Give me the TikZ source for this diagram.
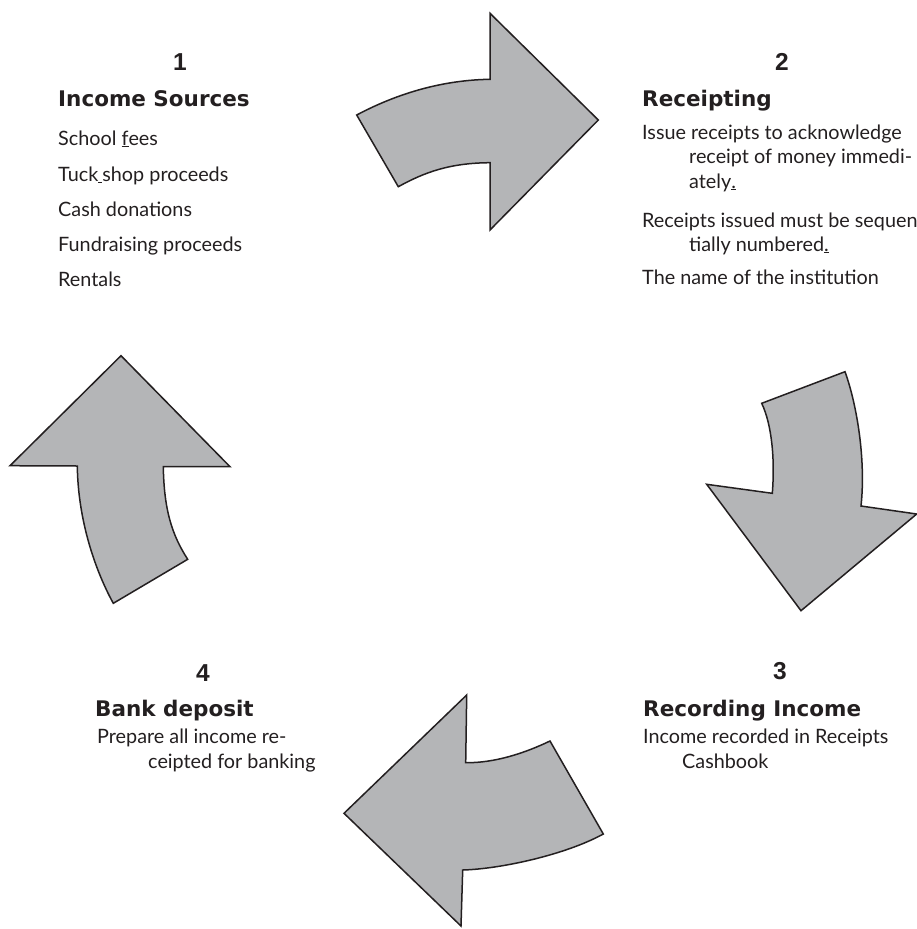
\documentclass[tikz,border=0pt]{standalone}
\usepackage{fontspec}
\setmainfont{Lato}
\newfontfamily\headfont{DejaVu Sans}
\newfontfamily\numfont{Liberation Sans}

\definecolor{ink}{HTML}{231F20}
\definecolor{arrowgray}{HTML}{B4B5B7}

\tikzset{
  bodytext/.style={anchor=base west, inner sep=0pt, text=ink,
    font=\fontsize{19.8}{24}\selectfont},
  headtext/.style={anchor=base west, inner sep=0pt, text=ink,
    font=\headfont\bfseries\fontsize{21.5}{26}\selectfont},
  numtext/.style={anchor=base, inner sep=0pt, text=ink,
    font=\numfont\bfseries\fontsize{24.5}{29}\selectfont},
  bigarrow/.style={fill=arrowgray, draw=ink, line width=1.5pt, line join=miter},
}

\begin{document}
\begin{tikzpicture}[x=1pt, y=-1pt]
\useasboundingbox (0,0) rectangle (917,929);

% curved block arrows of the cycle
% top: pointing right
\draw[bigarrow] (356.7,115) .. controls (400,92) and (445,80) .. (490,79.3)
  -- (490,13.3) -- (598.3,120) -- (490,230) -- (490,162.7)
  .. controls (450,163) and (425,172) .. (398.3,186.7) -- cycle;
% right: pointing down
\draw[bigarrow] (761.7,403.3) -- (845,371.7)
  .. controls (857,405) and (866,460) .. (861,506)
  -- (916.7,514) -- (801,610.7) -- (706.7,484.3) -- (772.3,493.3)
  .. controls (775,460) and (772,425) .. (761.7,403.3) -- cycle;
% bottom: pointing left
\draw[bigarrow] (465.7,762.7) .. controls (495,763) and (525,753) .. (550,741)
  -- (603.3,834)
  .. controls (565,855) and (500,869) .. (462.7,870)
  -- (461,926) -- (344,813.3) -- (466.7,695) -- cycle;
% left: pointing up
\draw[bigarrow] (121,355.7) -- (230,466.7) -- (163.3,466.7)
  .. controls (164,510) and (172,535) .. (187.7,559.3)
  -- (113.3,603.3)
  .. controls (95,570) and (78,520) .. (77.3,466)
  -- (10,465.7) -- cycle;

% step 1
\node[numtext]  (n1)  at (180,70)  {1};
\node[headtext] (h1)  at (58,106)  {Income Sources};
\node[bodytext] (s1a) at (58,145)  {School \underline{f}ees};
\node[bodytext] (s1b) at (58,181)  {Tuck\underline{\hspace{4pt}}shop proceeds};
\node[bodytext] (s1c) at (58,216)  {Cash donations};
\node[bodytext] (s1d) at (58,251)  {Fundraising proceeds};
\node[bodytext] (s1e) at (58,286)  {Rentals};

% step 2
\node[numtext]  (n2)  at (782,70)  {2};
\node[headtext] (h2)  at (642,106) {Receipting};
\node[bodytext] (s2a) at (642,139) {Issue receipts to acknowledge};
\node[bodytext] (s2b) at (689,163) {receipt of money immedi-};
\node[bodytext] (s2c) at (689,188) {ately\underline{.}};
\node[bodytext] (s2d) at (642,227) {Receipts issued must be sequen-};
\node[bodytext] (s2e) at (689,251) {tially numbered\underline{.}};
\node[bodytext] (s2f) at (642,284) {The name of the institution};

% step 3
\node[numtext]  (n3)  at (780,679) {3};
\node[headtext] (h3)  at (643,716) {Recording Income};
\node[bodytext] (s3a) at (643,743) {Income recorded in Receipts};
\node[bodytext] (s3b) at (682,768) {Cashbook};

% step 4
\node[numtext]  (n4)  at (203,681) {4};
\node[headtext] (h4)  at (95,716)  {Bank deposit};
\node[bodytext] (s4a) at (97,743)  {Prepare all income re-};
\node[bodytext] (s4b) at (148,768) {ceipted for banking};
\end{tikzpicture}
\end{document}
